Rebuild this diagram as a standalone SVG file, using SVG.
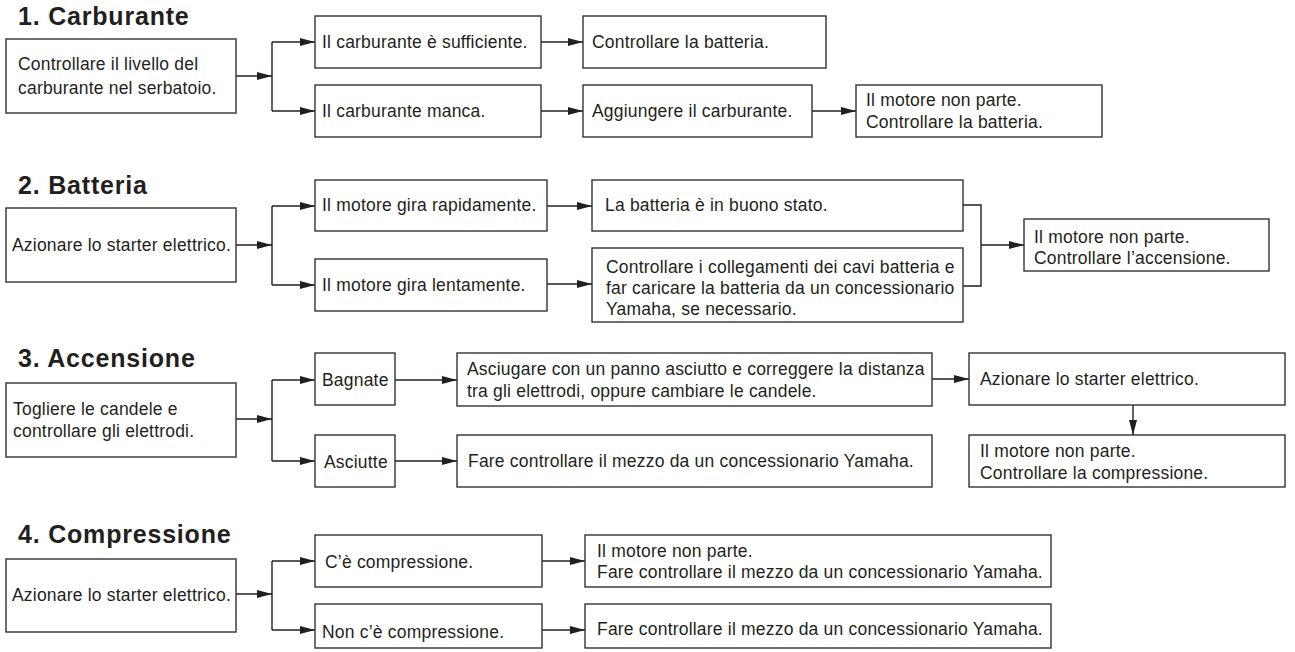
<svg xmlns="http://www.w3.org/2000/svg" width="1295" height="652" viewBox="0 0 1295 652">
<style>
.box{fill:#fff;stroke:#333;stroke-width:1.4}
.t{font-family:"Liberation Sans",Arial,sans-serif;font-size:17.5px;fill:#231f20;letter-spacing:0.2px}
.h{font-family:"Liberation Sans",Arial,sans-serif;font-size:25px;font-weight:bold;fill:#231f20;letter-spacing:0.8px}
.c{fill:none;stroke:#231f20;stroke-width:1.4}
.c path.a{marker-end:url(#ah)}
</style>
<defs>
<marker id="ah" markerUnits="userSpaceOnUse" markerWidth="15" markerHeight="9" refX="15" refY="4.5" orient="auto"><path d="M0,0.5 L15,4.5 L0,8.5 Z" fill="#231f20"/></marker>
</defs>
<rect width="1295" height="652" fill="#fff"/>
<g id="titles">
<text class="h" x="18" y="25">1. Carburante</text>
<text class="h" x="18" y="194">2. Batteria</text>
<text class="h" x="18" y="367">3. Accensione</text>
<text class="h" x="18" y="543">4. Compressione</text>
</g>
<g id="connectors" class="c">
<path class="a" d="M236,76 H272"/>
<path d="M272,42 V111"/>
<path class="a" d="M272,42 H315"/>
<path class="a" d="M272,111 H315"/>
<path class="a" d="M541,42 H583"/>
<path class="a" d="M541,111 H583"/>
<path class="a" d="M812,111 H856"/>
<path class="a" d="M236,245 H272"/>
<path d="M272,206 V285"/>
<path class="a" d="M272,206 H315"/>
<path class="a" d="M272,285 H315"/>
<path class="a" d="M547,206 H592"/>
<path class="a" d="M547,284 H592"/>
<path d="M963,205 H981 V286 H963"/>
<path class="a" d="M981,245 H1024"/>
<path class="a" d="M236,419 H272"/>
<path d="M272,380 V461"/>
<path class="a" d="M272,380 H315"/>
<path class="a" d="M272,461 H315"/>
<path class="a" d="M395,380 H457"/>
<path class="a" d="M395,461 H457"/>
<path class="a" d="M932,379 H969"/>
<path class="a" d="M1133,405 V435"/>
<path class="a" d="M236,594 H272"/>
<path d="M272,561 V630"/>
<path class="a" d="M272,561 H315"/>
<path class="a" d="M272,630 H315"/>
<path class="a" d="M542,561 H585"/>
<path class="a" d="M542,630 H585"/>
</g>
<g id="n1a"><rect class="box" x="6" y="39" width="230" height="74"/><text class="t" x="18" y="70">Controllare il livello del</text><text class="t" x="18" y="94">carburante nel serbatoio.</text></g>
<g id="n1b"><rect class="box" x="315" y="16" width="226" height="52"/><text class="t" x="322" y="48">Il carburante è sufficiente.</text></g>
<g id="n1c"><rect class="box" x="315" y="85" width="226" height="52"/><text class="t" x="322" y="117">Il carburante manca.</text></g>
<g id="n1d"><rect class="box" x="583" y="16" width="243" height="52"/><text class="t" x="592" y="48">Controllare la batteria.</text></g>
<g id="n1e"><rect class="box" x="583" y="85" width="229" height="52"/><text class="t" x="592" y="117">Aggiungere il carburante.</text></g>
<g id="n1f"><rect class="box" x="856" y="85" width="246" height="52"/><text class="t" x="866" y="106">Il motore non parte.</text><text class="t" x="866" y="128">Controllare la batteria.</text></g>
<g id="n2a"><rect class="box" x="6" y="208" width="230" height="74"/><text class="t" x="12" y="251">Azionare lo starter elettrico.</text></g>
<g id="n2b"><rect class="box" x="315" y="180" width="232" height="51"/><text class="t" x="322" y="211">Il motore gira rapidamente.</text></g>
<g id="n2c"><rect class="box" x="315" y="259" width="232" height="52"/><text class="t" x="322" y="291">Il motore gira lentamente.</text></g>
<g id="n2d"><rect class="box" x="592" y="180" width="371" height="51"/><text class="t" x="605" y="211">La batteria è in buono stato.</text></g>
<g id="n2e"><rect class="box" x="592" y="248" width="371" height="74"/><text class="t" x="606" y="273">Controllare i collegamenti dei cavi batteria e</text><text class="t" x="606" y="294">far caricare la batteria da un concessionario</text><text class="t" x="606" y="315">Yamaha, se necessario.</text></g>
<g id="n2f"><rect class="box" x="1024" y="219" width="245" height="52"/><text class="t" x="1034" y="243">Il motore non parte.</text><text class="t" x="1034" y="264">Controllare l’accensione.</text></g>
<g id="n3a"><rect class="box" x="6" y="383" width="230" height="74"/><text class="t" x="13" y="415">Togliere le candele e</text><text class="t" x="13" y="437">controllare gli elettrodi.</text></g>
<g id="n3b"><rect class="box" x="315" y="353" width="80" height="52"/><text class="t" x="322" y="386">Bagnate</text></g>
<g id="n3c"><rect class="box" x="315" y="435" width="80" height="52"/><text class="t" x="324" y="468">Asciutte</text></g>
<g id="n3d"><rect class="box" x="457" y="353" width="475" height="53"/><text class="t" x="467" y="375">Asciugare con un panno asciutto e correggere la distanza</text><text class="t" x="467" y="397">tra gli elettrodi, oppure cambiare le candele.</text></g>
<g id="n3e"><rect class="box" x="457" y="435" width="475" height="52"/><text class="t" x="468" y="467">Fare controllare il mezzo da un concessionario Yamaha.</text></g>
<g id="n3f"><rect class="box" x="969" y="353" width="316" height="52"/><text class="t" x="980" y="385">Azionare lo starter elettrico.</text></g>
<g id="n3g"><rect class="box" x="969" y="435" width="316" height="52"/><text class="t" x="980" y="457">Il motore non parte.</text><text class="t" x="980" y="479">Controllare la compressione.</text></g>
<g id="n4a"><rect class="box" x="6" y="559" width="230" height="73"/><text class="t" x="12" y="601">Azionare lo starter elettrico.</text></g>
<g id="n4b"><rect class="box" x="315" y="535" width="227" height="52"/><text class="t" x="325" y="568">C’è compressione.</text></g>
<g id="n4c"><rect class="box" x="315" y="604" width="227" height="44"/><text class="t" x="322" y="638">Non c’è compressione.</text></g>
<g id="n4d"><rect class="box" x="585" y="535" width="466" height="52"/><text class="t" x="597" y="557">Il motore non parte.</text><text class="t" x="597" y="578">Fare controllare il mezzo da un concessionario Yamaha.</text></g>
<g id="n4e"><rect class="box" x="585" y="604" width="466" height="44"/><text class="t" x="597" y="635">Fare controllare il mezzo da un concessionario Yamaha.</text></g>
</svg>
